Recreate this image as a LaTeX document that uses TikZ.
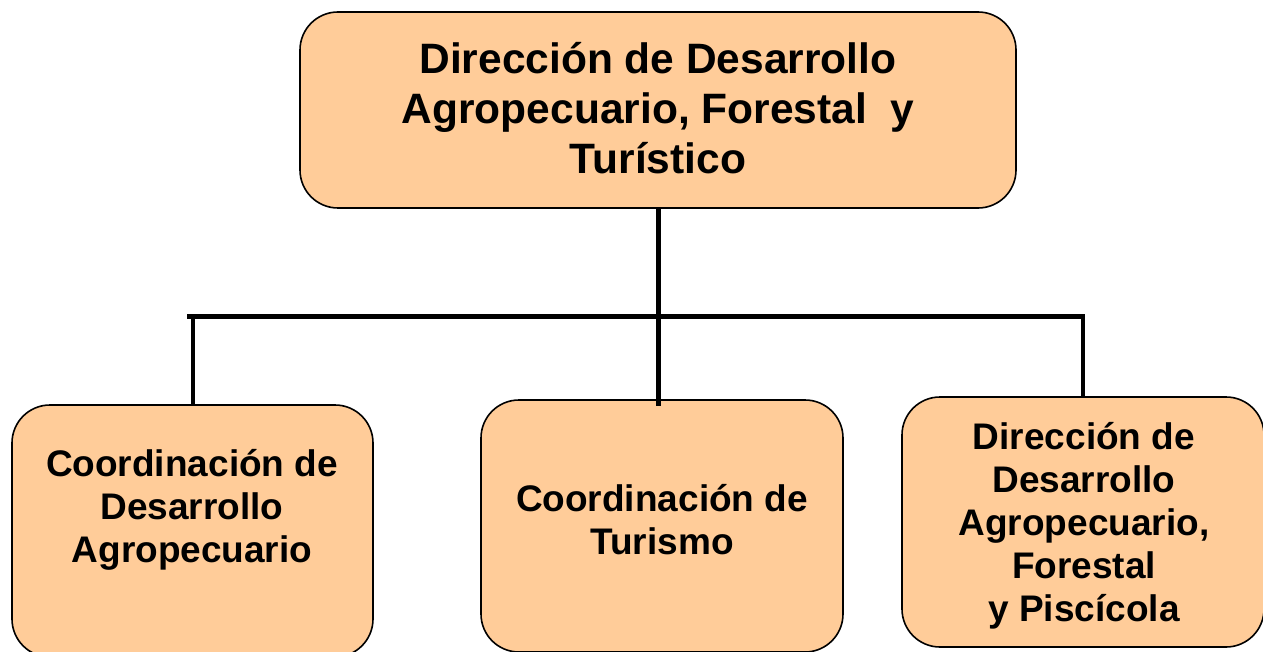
\documentclass[tikz,border=0pt]{standalone}
\usepackage{fontspec}
\setmainfont{Liberation Sans}
\definecolor{peach}{HTML}{FFCC99}
\begin{document}
\begin{tikzpicture}[x=1pt,y=-1pt,
  box/.style={draw=black, line width=1.6pt, fill=peach, rounded corners=38pt, inner sep=0pt},
  txt/.style={align=center, inner sep=0pt},
  conn/.style={draw=black, line width=5pt}]
\useasboundingbox (0,0) rectangle (1263,652);
\clip (0,0) rectangle (1263,652);
% boxes
\node[box, minimum width=716pt, minimum height=196pt] (top) at (658,110) {};
\node[box, minimum width=361pt, minimum height=252pt] (left) at (192.5,531) {};
\node[box, minimum width=362pt, minimum height=252pt] (mid) at (662,526) {};
\node[box, minimum width=362pt, minimum height=250pt] (right) at (1083,522) {};
% texts
\node[txt, font=\fontsize{42.5}{50}\selectfont\bfseries] (ttop) at (658,108)
  {Dirección de Desarrollo\\Agropecuario, Forestal \ y\\Turístico};
\node[txt, font=\fontsize{37}{43}\selectfont\bfseries] (tleft) at (192,510)
  {Coordinación de\\Desarrollo\\Agropecuario};
\node[txt, font=\fontsize{37}{43}\selectfont\bfseries] (tmid) at (662,520)
  {Coordinación de\\Turismo};
\node[txt, font=\fontsize{37}{43}\selectfont\bfseries] (tright) at (1084,526)
  {Dirección de\\Desarrollo\\Agropecuario,\\Forestal\\y Piscícola};
% connectors
\coordinate (hl) at (187,316);
\coordinate (hr) at (1085,316);
\draw[conn] (hl) -- (hr);
\draw[conn, line width=4pt] (left.north |- hl) -- (left.north);
\draw[conn, line width=4pt] (right.north |- hr) -- (right.north);
\draw[conn] (top.south) -- ([yshift=-7pt]top.south |- mid.north);
\end{tikzpicture}
\end{document}
